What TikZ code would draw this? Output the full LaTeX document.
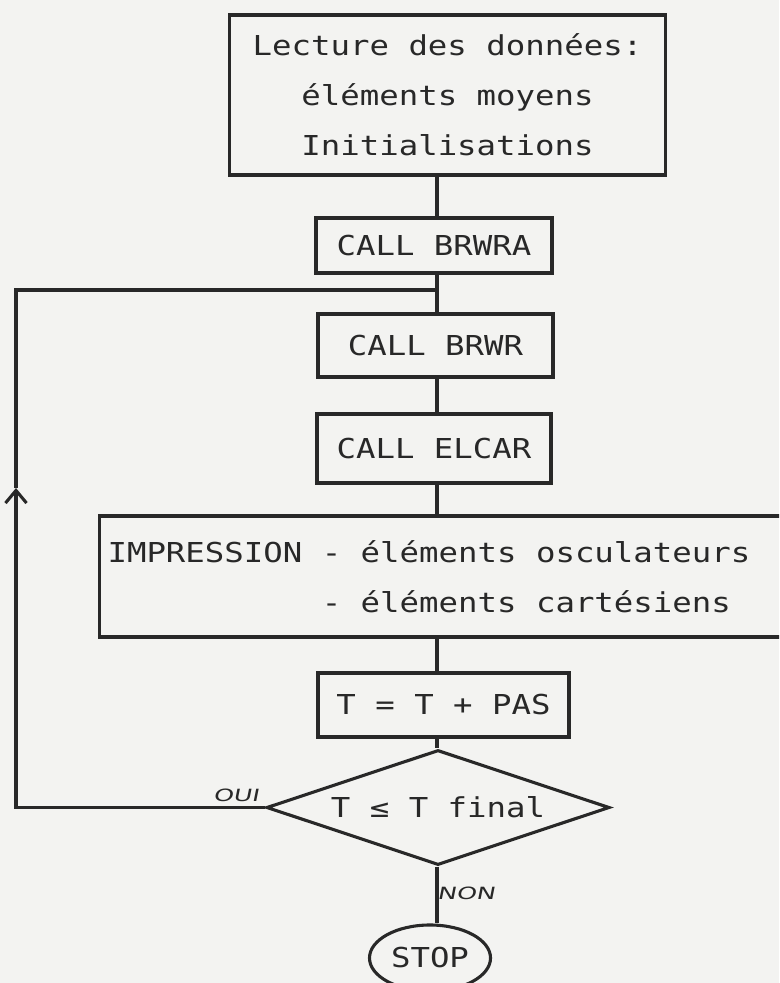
\documentclass[tikz,border=0pt]{standalone}
\usepackage{fontspec}
\usepackage{tikz}
\usetikzlibrary{shapes.geometric,arrows.meta}
\setmonofont[FakeStretch=1.18]{DejaVu Sans Mono}
\newfontfamily\etiqfont[FakeStretch=1.5,FakeSlant=0.2]{DejaVu Sans}
\newcommand\policebloc{\ttfamily\fontsize{19.5}{35.5}\selectfont\spaceskip 0.71em\relax}
\definecolor{encre}{RGB}{40,40,40}
\definecolor{papier}{RGB}{243,243,241}

\begin{document}
\begin{tikzpicture}[x=0.025cm, y=-0.025cm, >={Straight Barb[length=9pt,width=15pt]},
    every node/.style={font=\policebloc, text=encre},
    boite/.style={draw=encre, line width=2.2pt, inner sep=0pt, align=center},
    lien/.style={draw=encre, line width=2.2pt},
    etiq/.style={font=\etiqfont\fontsize{12}{12}\selectfont}]
    \useasboundingbox (0,0) rectangle (779,983);
    \clip (0,0) rectangle (779,983);
    \fill[papier] (0,0) rectangle (779,983);

    % Blocs
    \node[boite, minimum width=10.875cm, minimum height=4cm] (donnees) at (447.5,95)
        {Lecture des données:\\éléments moyens\\Initialisations};
    \node[boite, minimum width=5.9cm, minimum height=1.375cm] (brwra) at (434,245.5) {CALL BRWRA};
    \node[boite, minimum width=5.875cm, minimum height=1.575cm] (brwr) at (435.5,345.5) {CALL BRWR};
    \node[boite, minimum width=5.85cm, minimum height=1.725cm] (elcar) at (434,448.5) {CALL ELCAR};
    \node[boite, anchor=west, align=flush left, text width=17.25cm, inner xsep=0.2cm,
        minimum height=3.025cm] (impression) at (98,576.5)
        {IMPRESSION - éléments osculateurs\\\phantom{IMPRESSION }- éléments cartésiens};
    \node[boite, minimum width=6.275cm, minimum height=1.6cm] (tpas) at (443.5,705) {T = T + PAS};
    \node[boite, diamond, aspect=3, minimum width=8.575cm, minimum height=2.875cm] (test) at (438,807.5) {T ≤ T final};
    \node[boite, ellipse, minimum width=3.025cm, minimum height=1.65cm] (stop) at (430,958) {STOP};

    % Etiquettes
    \node[etiq] (oui) at (236,795) {OUI};
    \node[etiq] (non) at (466,893) {NON};

    % Liaisons
    \coordinate (axe) at (437,0);
    \draw[lien] (donnees.south -| axe) -- (brwra.north -| axe);
    \draw[lien] (brwra.south -| axe) -- (brwr.north -| axe);
    \draw[lien] (brwr.south -| axe) -- (elcar.north -| axe);
    \draw[lien] (elcar.south -| axe) -- (impression.north -| axe);
    \draw[lien] (impression.south -| axe) -- (tpas.north -| axe);
    \draw[lien] (tpas.south -| axe) -- (test.north -| axe);
    \draw[lien] (test.south -| axe) -- (stop.north -| axe);

    % Boucle
    \coordinate (jonction) at (437,290);
    \coordinate (coinhaut) at (16,290);
    \coordinate (fleche) at (16,488);
    \coordinate (coinbas) at (16,807.5);
    \draw[lien,->] (test.west) -- (coinbas) -- (fleche);
    \draw[lien] (fleche) -- (coinhaut) -- (jonction);
\end{tikzpicture}
\end{document}
